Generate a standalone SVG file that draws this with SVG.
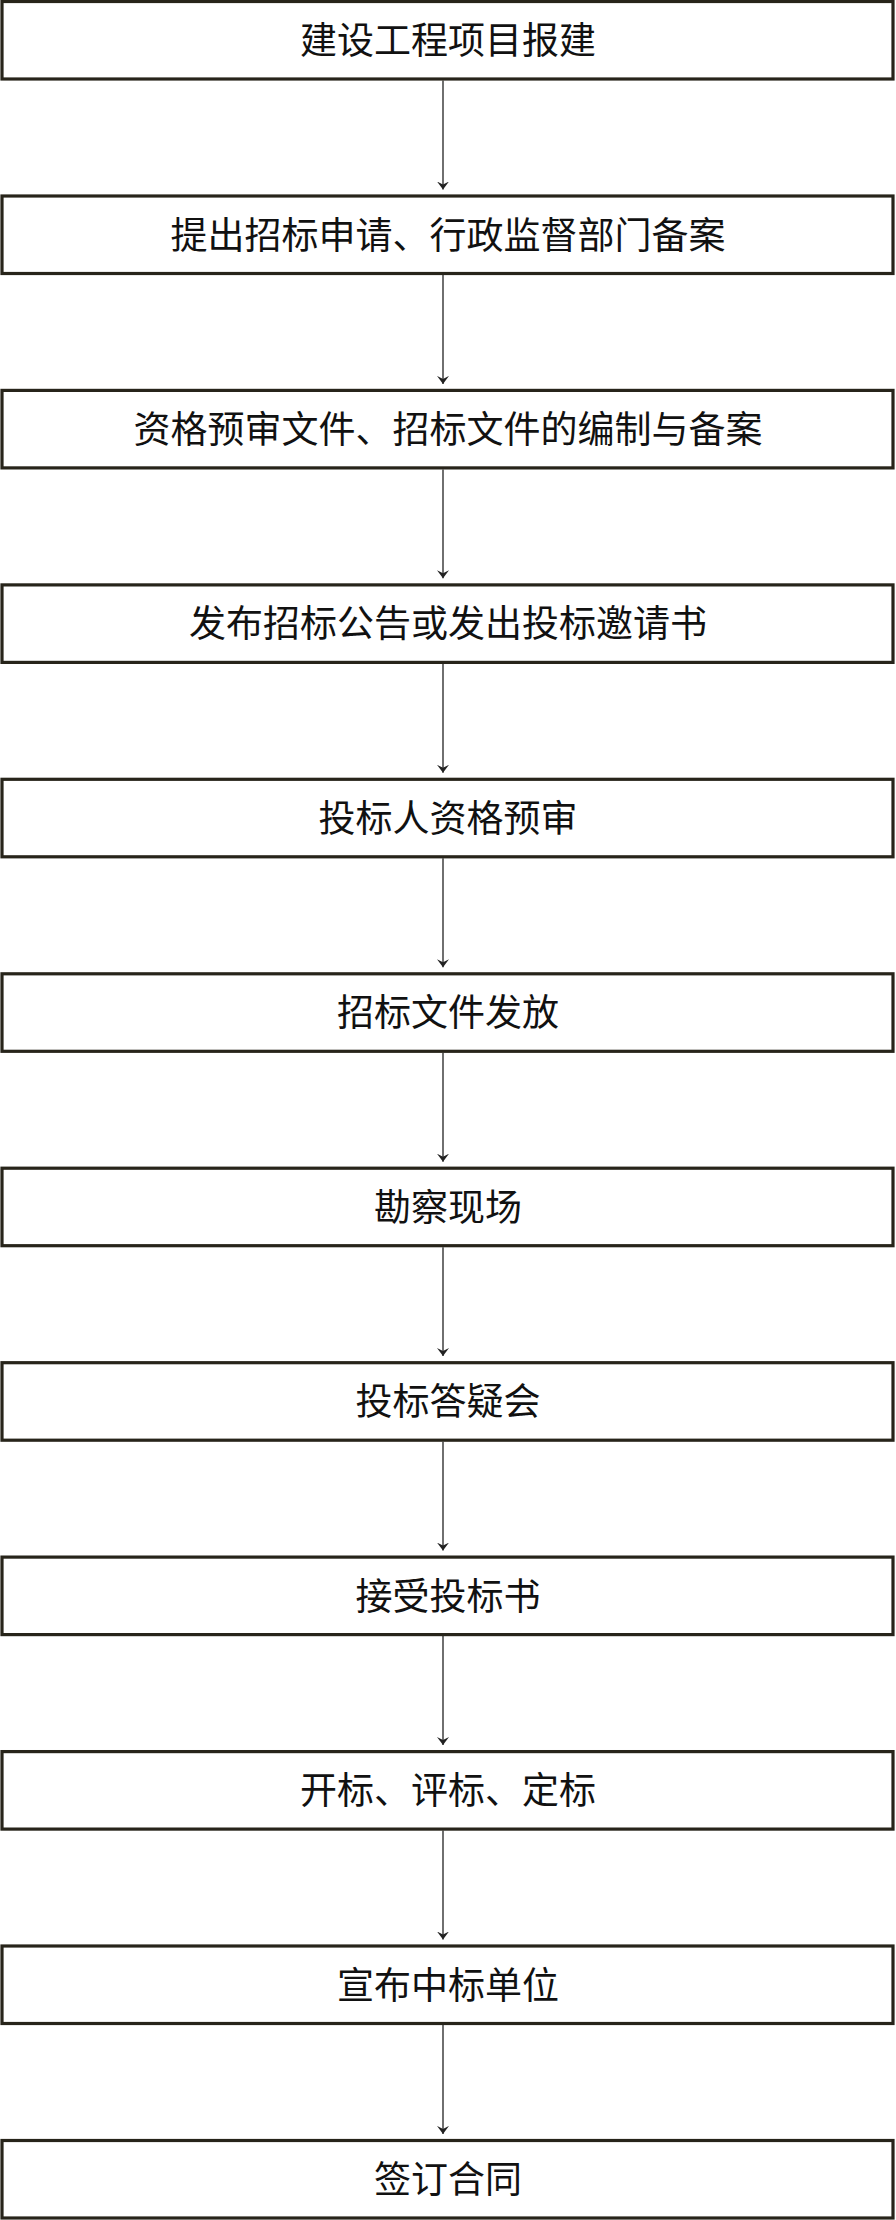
<svg xmlns="http://www.w3.org/2000/svg" width="896" height="2220" viewBox="0 0 896 2220">
<style>
.box{fill:#ffffff;stroke:#27241a;stroke-width:3.2}
.lbl{font-family:"Noto Sans CJK SC","Noto Sans CJK JP",sans-serif;font-size:37px;fill:#111;text-anchor:middle}
.con{stroke:#333;stroke-width:1.4;fill:none;marker-end:url(#ah)}
</style>
<defs>
<marker id="ah" markerUnits="userSpaceOnUse" markerWidth="9" markerHeight="12" refX="8" refY="6" orient="auto" viewBox="0 0 9 12">
<path d="M0,0 L8,6 L0,12 L3,6 Z" fill="#222"/>
</marker>
</defs>
<rect width="896" height="2220" fill="#ffffff"/>
<g id="connectors">
<line class="con" x1="443" y1="80.5" x2="443" y2="189.5"/>
<line class="con" x1="443" y1="275" x2="443" y2="383.9"/>
<line class="con" x1="443" y1="469.4" x2="443" y2="578.3"/>
<line class="con" x1="443" y1="663.9" x2="443" y2="772.8"/>
<line class="con" x1="443" y1="858.3" x2="443" y2="967.2"/>
<line class="con" x1="443" y1="1052.8" x2="443" y2="1161.7"/>
<line class="con" x1="443" y1="1247.2" x2="443" y2="1356.1"/>
<line class="con" x1="443" y1="1441.7" x2="443" y2="1550.6"/>
<line class="con" x1="443" y1="1636.1" x2="443" y2="1745"/>
<line class="con" x1="443" y1="1830.6" x2="443" y2="1939.5"/>
<line class="con" x1="443" y1="2025" x2="443" y2="2133.9"/>
</g>
<g id="n1"><rect class="box" x="2" y="1.5" width="891" height="77.5"/><text class="lbl" x="448" y="54">建设工程项目报建</text></g>
<g id="n2"><rect class="box" x="2" y="196" width="891" height="77.5"/><text class="lbl" x="448" y="248.5">提出招标申请、行政监督部门备案</text></g>
<g id="n3"><rect class="box" x="2" y="390.4" width="891" height="77.5"/><text class="lbl" x="448" y="442.9">资格预审文件、招标文件的编制与备案</text></g>
<g id="n4"><rect class="box" x="2" y="584.9" width="891" height="77.5"/><text class="lbl" x="448" y="637.4">发布招标公告或发出投标邀请书</text></g>
<g id="n5"><rect class="box" x="2" y="779.3" width="891" height="77.5"/><text class="lbl" x="448" y="831.8">投标人资格预审</text></g>
<g id="n6"><rect class="box" x="2" y="973.8" width="891" height="77.5"/><text class="lbl" x="448" y="1026.3">招标文件发放</text></g>
<g id="n7"><rect class="box" x="2" y="1168.2" width="891" height="77.5"/><text class="lbl" x="448" y="1220.7">勘察现场</text></g>
<g id="n8"><rect class="box" x="2" y="1362.7" width="891" height="77.5"/><text class="lbl" x="448" y="1415.2">投标答疑会</text></g>
<g id="n9"><rect class="box" x="2" y="1557.1" width="891" height="77.5"/><text class="lbl" x="448" y="1609.6">接受投标书</text></g>
<g id="n10"><rect class="box" x="2" y="1751.6" width="891" height="77.5"/><text class="lbl" x="448" y="1804.1">开标、评标、定标</text></g>
<g id="n11"><rect class="box" x="2" y="1946" width="891" height="77.5"/><text class="lbl" x="448" y="1998.5">宣布中标单位</text></g>
<g id="n12"><rect class="box" x="2" y="2140.5" width="891" height="77.5"/><text class="lbl" x="448" y="2193">签订合同</text></g>
</svg>
